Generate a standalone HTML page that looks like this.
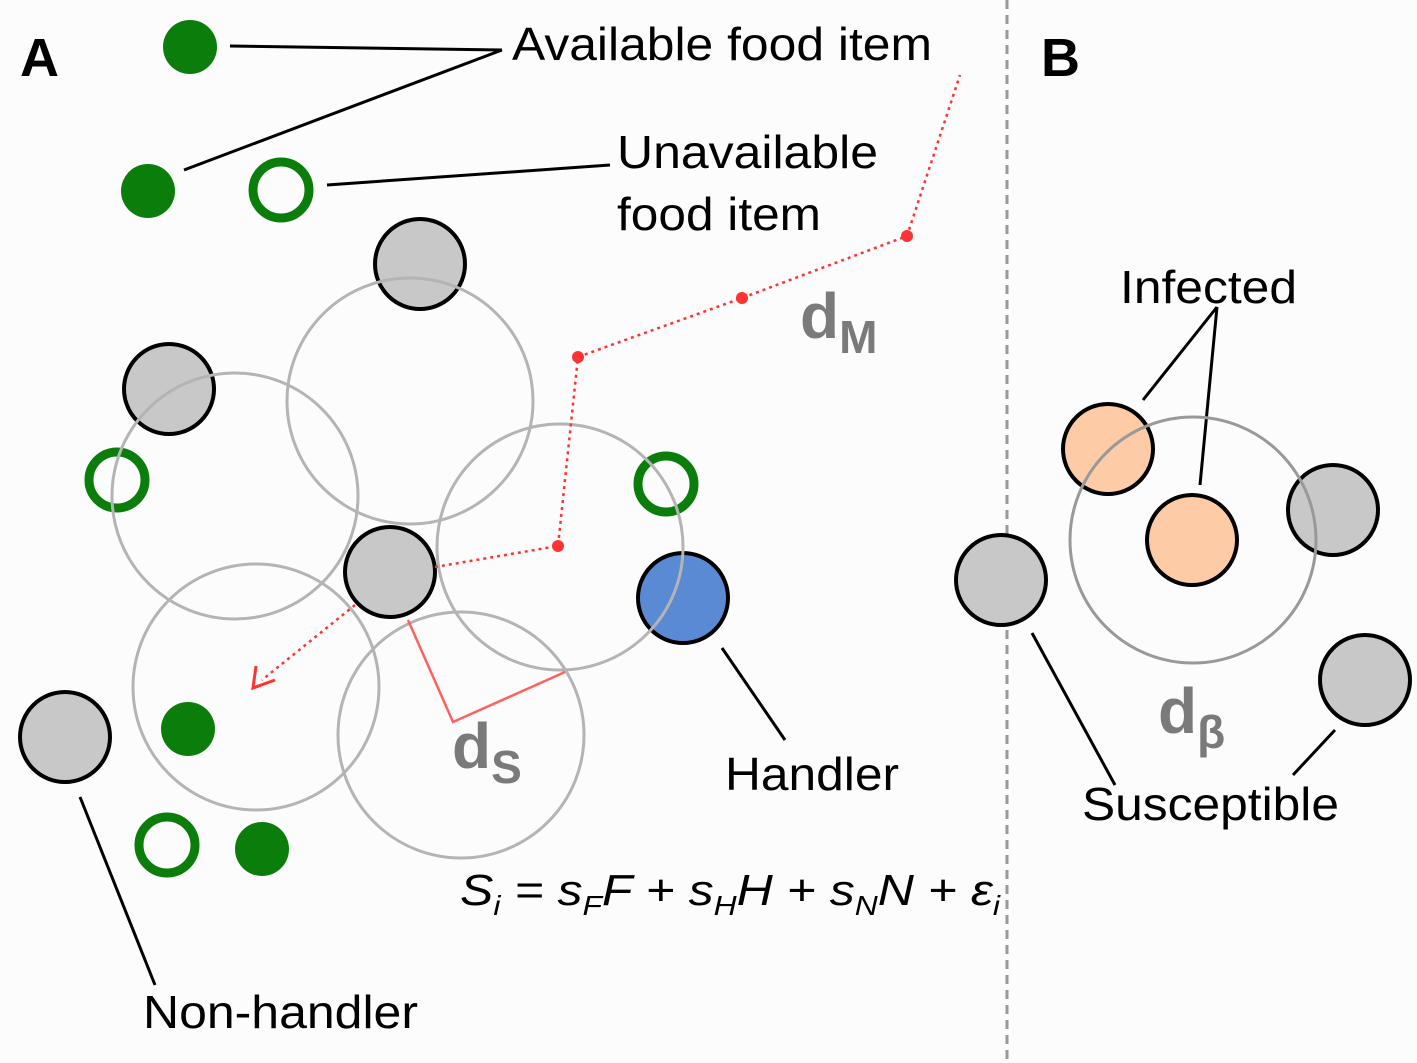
<!DOCTYPE html>
<html><head><meta charset="utf-8"><style>
html,body{margin:0;padding:0;background:#fcfcfc}
svg{display:block}
text{font-family:"Liberation Sans",sans-serif}
</style></head><body>
<svg width="1417" height="1063" viewBox="0 0 1417 1063">
<rect width="1417" height="1063" fill="#fcfcfc"/>
<g stroke="#000" stroke-width="3">
<line x1="230" y1="46" x2="502" y2="50"/>
<line x1="184" y1="170" x2="502" y2="50"/>
<line x1="327" y1="185" x2="610" y2="165"/>
<line x1="722" y1="648" x2="785" y2="740"/>
<line x1="80" y1="797" x2="155" y2="985"/>
<line x1="1217" y1="307" x2="1143" y2="400"/>
<line x1="1217" y1="307" x2="1200" y2="485"/>
<line x1="1032" y1="633" x2="1115" y2="785"/>
<line x1="1335" y1="730" x2="1293" y2="775"/>
</g>
<line x1="1007" y1="0" x2="1007" y2="1063" stroke="#999" stroke-width="3" stroke-dasharray="9,6"/>
<text x="20" y="76" font-size="54" font-weight="bold">A</text>
<text x="1041" y="76" font-size="54" font-weight="bold">B</text>
<g fill="#0a7d0a">
<circle cx="190" cy="47" r="27"/><circle cx="148" cy="191" r="27"/><circle cx="188" cy="729" r="27"/><circle cx="262" cy="849" r="27"/>
</g>
<g fill="none" stroke="#0a7d0a" stroke-width="9">
<circle cx="281" cy="190" r="28"/><circle cx="117" cy="480" r="28"/><circle cx="666" cy="484" r="28"/><circle cx="167" cy="845" r="28"/>
</g>
<g fill="#c8c8c8" stroke="#000" stroke-width="4">
<circle cx="420" cy="264" r="45"/><circle cx="169" cy="389" r="45"/><circle cx="390" cy="572" r="45"/><circle cx="65" cy="737" r="45"/>
<circle cx="683" cy="598" r="45" fill="#5b8ad4"/>
<circle cx="1108" cy="449" r="45" fill="#fdcba5"/><circle cx="1192" cy="540" r="45" fill="#fdcba5"/>
<circle cx="1333" cy="510" r="45"/><circle cx="1001" cy="580" r="45"/><circle cx="1365" cy="680" r="45"/>
</g>
<g fill="none" stroke="#b4b4b4" stroke-width="3">
<circle cx="410" cy="401" r="123"/><circle cx="235" cy="496" r="123"/><circle cx="560" cy="547" r="123"/><circle cx="256" cy="687" r="123"/><circle cx="461" cy="735" r="123"/>
<circle cx="1193" cy="540" r="123" stroke="#999"/>
</g>
<g stroke="#ff3333" fill="none" stroke-width="2.5">
<polyline points="435,567 558,546 578,357 742,298 907,236 960,75" stroke-dasharray="3,4"/>
<line x1="355" y1="605" x2="262" y2="680" stroke-dasharray="3,4"/>
<polyline points="256,666 253,688 275,680" stroke-width="3"/>
<polyline points="408,620 453,722 565,672" stroke="#ff6060" stroke-width="2.5"/>
</g>
<g fill="#ff3333"><circle cx="558" cy="546" r="6"/><circle cx="578" cy="357" r="6"/><circle cx="742" cy="298" r="6"/><circle cx="907" cy="236" r="6"/></g>
<g fill="#000" font-size="46">
<text x="512" y="60" textLength="420" lengthAdjust="spacingAndGlyphs">Available food item</text>
<text x="617" y="168" textLength="261" lengthAdjust="spacingAndGlyphs">Unavailable</text>
<text x="617" y="230" textLength="204" lengthAdjust="spacingAndGlyphs">food item</text>
<text x="725" y="790" textLength="174" lengthAdjust="spacingAndGlyphs">Handler</text>
<text x="143" y="1028" textLength="275" lengthAdjust="spacingAndGlyphs">Non-handler</text>
<text x="1120" y="303" textLength="177" lengthAdjust="spacingAndGlyphs">Infected</text>
<text x="1082" y="820" textLength="257" lengthAdjust="spacingAndGlyphs">Susceptible</text>
</g>
<g fill="#7a7a7a" font-weight="bold">
<text x="800" y="338" font-size="64">d<tspan font-size="46" dy="15">M</tspan></text>
<text x="452" y="768" font-size="64">d<tspan font-size="46" dy="15">S</tspan></text>
<text x="1158" y="733" font-size="64">d<tspan font-size="46" dy="15">β</tspan></text>
</g>
<text x="460" y="905" font-size="44" font-style="italic" textLength="540" lengthAdjust="spacingAndGlyphs">S<tspan font-size="28" dy="10">i</tspan><tspan dy="-10"> = s</tspan><tspan font-size="28" dy="10">F</tspan><tspan dy="-10">F + s</tspan><tspan font-size="28" dy="10">H</tspan><tspan dy="-10">H + s</tspan><tspan font-size="28" dy="10">N</tspan><tspan dy="-10">N + ε</tspan><tspan font-size="28" dy="10">i</tspan></text>
</svg>
</body></html>
